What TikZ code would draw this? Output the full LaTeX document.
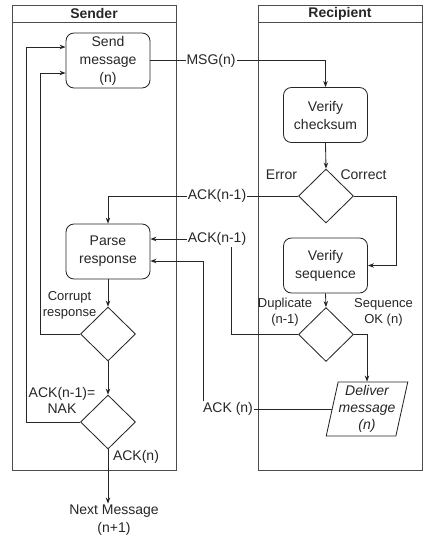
\documentclass[tikz,border=0pt]{standalone}
\usepackage{fontspec}
\setmainfont{Liberation Sans}
\usetikzlibrary{shapes.geometric,arrows.meta,calc}

\begin{document}
\begin{tikzpicture}[x=1pt,y=-1pt, every node/.style={text=black!85},
  line/.style={draw=black!85, line width=0.85pt},
  arr/.style={line, -{Stealth[length=6pt,width=4.5pt]}},
  lane/.style={draw=black!70, line width=0.9pt},
  proc/.style={draw=black!85, line width=0.85pt, rounded corners=8pt,
    minimum width=84pt, minimum height=55pt, align=center,
    font=\fontsize{14}{18}\selectfont, inner sep=0pt},
  dec/.style={diamond, draw=black!85, line width=0.85pt,
    minimum width=55pt, minimum height=54pt, inner sep=0pt},
  io/.style={trapezium, trapezium left angle=76, trapezium right angle=104,
    trapezium stretches=true, draw=black!85, line width=0.85pt,
    minimum width=82pt, minimum height=54pt, align=center, inner sep=0pt,
    font=\itshape\fontsize{14}{17}\selectfont},
  lbl/.style={align=center, font=\fontsize{14}{16}\selectfont, inner sep=1pt},
  elbl/.style={lbl, fill=white},
  small/.style={align=center, font=\fontsize{13}{16}\selectfont, inner sep=0pt},
  title/.style={font=\bfseries\fontsize{14}{16}\selectfont, inner sep=0pt}
]
\useasboundingbox (0,0) rectangle (430,539);

% swimlanes
\draw[lane] (12,5) rectangle (176,470);
\draw[lane] (12,22) -- (176,22);
\node[title] (sendertitle) at (94,13.5) {Sender};
\draw[lane] (258,5) rectangle (422,470);
\draw[lane] (258,22) -- (422,22);
\node[title] (recipienttitle) at (340,13.5) {Recipient};

% sender column
\node[proc] (send) at (108,60.5) {Send\\message\\(n)};
\node[proc] (parse) at (108,251.5) {Parse\\response};
\node[dec] (d3) at (108,334) {};
\node[dec] (d4) at (108,422) {};
\node[lbl, font=\fontsize{14}{18}\selectfont] (next) at (114,520) {Next Message\\(n+1)};

% recipient column
\node[proc] (chk) at (325.5,115) {Verify\\checksum};
\node[dec] (d1) at (326,196) {};
\node[proc] (vs) at (325.5,265.5) {Verify\\sequence};
\node[dec] (d2) at (326,334.5) {};
\node[io] (deliver) at (367,409) {Deliver\\message\\(n)};

% bend points of the return paths
\coordinate (c2) at (231,239);
\coordinate (c3) at (203,261);
\coordinate (c4) at (40,73);
\coordinate (c5) at (26,47);

% connectors
\draw[arr] (send.east) -| (chk.north);
\draw[arr] (chk.south) -- (d1.north);
\draw[arr] (d1.west) -| (parse.north);
\draw[arr] (d1.east) -- ++(42,0) |- (vs.east);
\draw[arr] (vs.south) -- (d2.north);
\draw[arr] (d2.west) -| (c2) -- (c2 -| parse.east);
\draw[arr] (d2.east) -| (deliver.north);
\draw[arr] (deliver.left side) -| (c3) -- (c3 -| parse.east);
\draw[arr] (parse.south) -- (d3.north);
\draw[arr] (d3.south) -- (d4.north);
\draw[arr] (d3.west) -| (c4) -- (c4 -| send.west);
\draw[arr] (d4.west) -| (c5) -- (c5 -| send.west);
\draw[arr] (d4.south) -- (d4.south |- next.north);

% connector labels
\node[elbl] (msg) at (211,60.5) {MSG(n)};
\node[elbl] (ack1) at (217,196) {ACK(n-1)};
\node[elbl] (ack2) at (217,239) {ACK(n-1)};
\node[elbl] (ackn) at (228,409) {ACK (n)};
\node[lbl] (err) at (281.5,175) {Error};
\node[lbl] (cor) at (363.5,175) {Correct};
\node[small] (dup) at (285,312) {Duplicate\\(n-1)};
\node[small] (seqok) at (383.5,312.5) {Sequence\\OK (n)};
\node[small] (corrupt) at (69.5,305.5) {Corrupt\\response};
\node[lbl] (nak) at (62,400) {ACK(n-1)=\\NAK};
\node[lbl] (ackd) at (136,457) {ACK(n)};
\end{tikzpicture}
\end{document}
